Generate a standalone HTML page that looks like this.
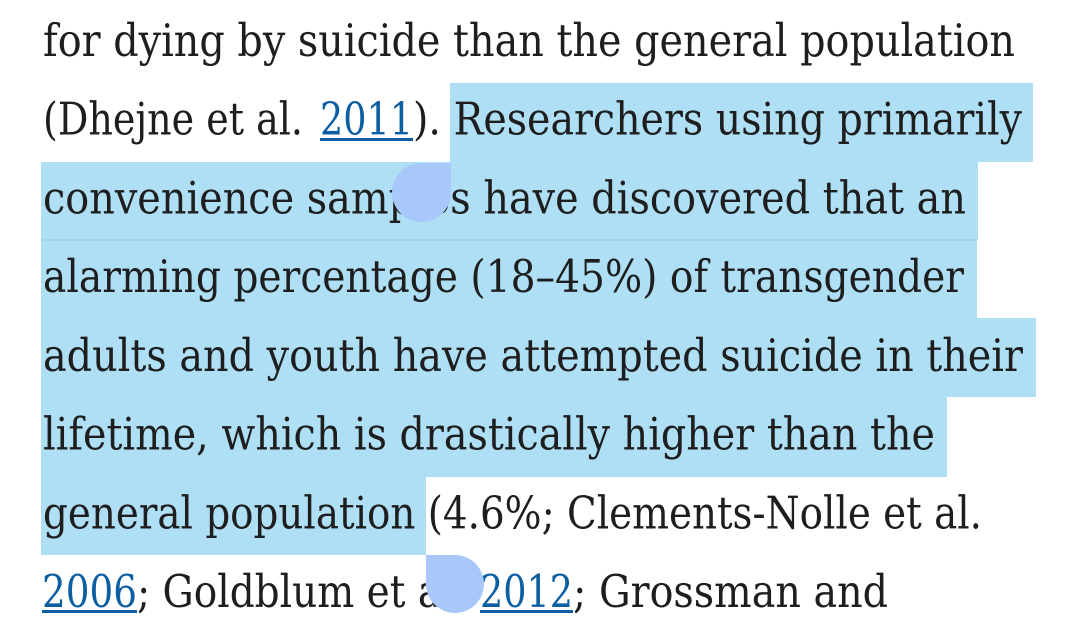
<!DOCTYPE html>
<html>
<head>
<meta charset="utf-8">
<style>
  html,body{margin:0;padding:0;background:#fff;}
  svg{display:block;}
  text{font-family:"DejaVu Serif","Liberation Serif",serif;font-size:45px;fill:#1e1e1e;}
  .lk{fill:#0b5ea2;}
</style>
</head>
<body>
<svg width="1084" height="635" viewBox="0 0 1084 635" xmlns="http://www.w3.org/2000/svg">
  <rect x="0" y="0" width="1084" height="635" fill="#ffffff"/>
  <!-- selection highlight -->
  <g fill="#aedff5">
    <rect x="450" y="83" width="583" height="79"/>
    <rect x="41" y="162" width="937" height="78"/>
    <rect x="41" y="240" width="936" height="78"/>
    <rect x="41" y="318" width="995" height="79"/>
    <rect x="41" y="397" width="906" height="80"/>
    <rect x="41" y="477" width="385" height="78"/>
  </g>
  <rect x="41" y="239.5" width="936" height="1" fill="#8fcdec"/>

  <!-- text lines -->
  <text x="43" y="56" textLength="972" lengthAdjust="spacingAndGlyphs">for dying by suicide than the general population</text>

  <text x="43" y="134.5" textLength="260" lengthAdjust="spacingAndGlyphs">(Dhejne et al.</text>
  <text class="lk" x="320" y="134.5" textLength="93" lengthAdjust="spacingAndGlyphs">2011</text>
  <text x="413" y="134.5" textLength="609" lengthAdjust="spacingAndGlyphs">). Researchers using primarily</text>
  <rect x="320" y="138" width="93" height="3" fill="#0b5ea2"/>

  <text x="43" y="213.25" textLength="923" lengthAdjust="spacingAndGlyphs">convenience samples have discovered that an</text>
  <text x="43" y="292" textLength="921" lengthAdjust="spacingAndGlyphs">alarming percentage (18–45%) of transgender</text>
  <text x="43" y="370.75" textLength="980" lengthAdjust="spacingAndGlyphs">adults and youth have attempted suicide in their</text>
  <text x="43" y="449.5" textLength="892" lengthAdjust="spacingAndGlyphs">lifetime, which is drastically higher than the</text>
  <text x="43" y="528.25" textLength="939" lengthAdjust="spacingAndGlyphs">general population (4.6%; Clements-Nolle et al.</text>

  <text class="lk" x="42" y="607" textLength="95" lengthAdjust="spacingAndGlyphs">2006</text>
  <rect x="42" y="610" width="95" height="3" fill="#0b5ea2"/>
  <text x="137" y="607" textLength="329" lengthAdjust="spacingAndGlyphs">; Goldblum et al.</text>
  <text class="lk" x="480" y="607" textLength="93" lengthAdjust="spacingAndGlyphs">2012</text>
  <rect x="480" y="610" width="93" height="3" fill="#0b5ea2"/>
  <text x="573" y="607" textLength="315" lengthAdjust="spacingAndGlyphs">; Grossman and</text>

  <!-- selection handles -->
  <g fill="#a8c7fa">
    <circle cx="421.5" cy="192.5" r="29.5"/>
    <rect x="421.5" y="163" width="29.5" height="29.5"/>
    <circle cx="455" cy="584" r="29"/>
    <rect x="426" y="555" width="29" height="29"/>
  </g>
</svg>
</body>
</html>
